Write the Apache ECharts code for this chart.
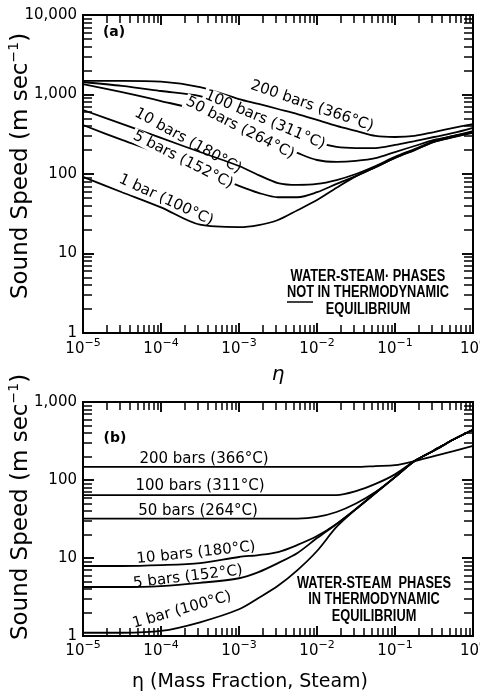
<!DOCTYPE html>
<html><head><meta charset="utf-8">
<script src="https://cdn.jsdelivr.net/npm/echarts@6/dist/echarts.min.js"></script>
<style>html,body{margin:0;padding:0;background:#fff}#c{width:480px;height:698px}</style>
</head><body><div id="c"></div>
<script>
// ---- data ----
const eta = [1e-5, 3.16e-5, 1e-4, 3.16e-4, 1e-3, 1.78e-3, 3.16e-3, 5.62e-3, 1e-2, 1.78e-2, 3.16e-2, 5.62e-2, 0.1, 0.178, 0.316, 0.562, 1];
const curveNames = ['200 bars (366°C)', '100 bars (311°C)', '50 bars (264°C)', '10 bars (180°C)', '5 bars (152°C)', '1 bar (100°C)'];
// panel (a): not in thermodynamic equilibrium
const a200 = [1480, 1480, 1450, 1240, 877, 760, 657, 568, 478, 402, 348, 301, 292, 301, 337, 380, 425];
const a100 = [1436, 1280, 1107, 955, 657, 521, 413, 328, 253, 219, 212, 212, 232, 260, 292, 328, 380];
const a50  = [1350, 1070, 828, 620, 368, 292, 232, 184, 150, 142, 146, 158, 189, 225, 268, 301, 337];
const a10  = [638, 426, 284, 189, 126, 97, 77, 73, 75, 84, 100, 126, 164, 206, 260, 301, 347];
const a5   = [413, 268, 178, 112, 71, 58, 51, 51, 59, 75, 94, 122, 159, 200, 253, 292, 337];
const a1   = [92, 59, 38, 23, 21.5, 22.8, 26.4, 35, 47, 67, 94, 122, 159, 200, 253, 290, 328];
// panel (b): in thermodynamic equilibrium
const b200 = [147, 147, 147, 147, 147, 147, 147, 147, 147, 147, 147, 151, 155, 175, 203, 235, 273];
const b100 = [64, 64, 64, 64, 64, 64, 64, 64, 64, 64, 72, 89, 118, 175, 239, 330, 440];
const b50  = [32, 32, 32, 32, 32, 32, 32, 32, 33.6, 38.9, 50, 70, 109, 175, 239, 330, 440];
const b10  = [7.9, 7.9, 8.1, 8.6, 10.3, 10.9, 11.9, 14.7, 19.1, 27.3, 42.4, 68, 109, 175, 239, 330, 440];
const b5   = [4.25, 4.25, 4.37, 4.8, 5.5, 6.6, 8.6, 11.6, 18.0, 27.3, 42.4, 68, 109, 175, 239, 330, 440];
const b1   = [1.1, 1.1, 1.16, 1.5, 2.2, 3.07, 4.4, 7.0, 12.3, 25, 42.4, 68, 109, 175, 239, 330, 440];
const xTickExponents = ['\u22125', '\u22124', '\u22123', '\u22122', '\u22121', '0'];
const yTickLabelsA = ['1', '10', '100', '1,000', '10,000'];
const yTickLabelsB = ['1', '10', '100', '1,000'];
// tick positions (log axes: 1..9 per decade)
const xTickVals = [1e-5, 2e-5, 3e-5, 4e-5, 5e-5, 6e-5, 7e-5, 8e-5, 9e-5,
  1e-4, 2e-4, 3e-4, 4e-4, 5e-4, 6e-4, 7e-4, 8e-4, 9e-4,
  1e-3, 2e-3, 3e-3, 4e-3, 5e-3, 6e-3, 7e-3, 8e-3, 9e-3,
  0.01, 0.02, 0.03, 0.04, 0.05, 0.06, 0.07, 0.08, 0.09,
  0.1, 0.2, 0.3, 0.4, 0.5, 0.6, 0.7, 0.8, 0.9, 1];
const yTickValsA = [1, 2, 3, 4, 5, 6, 7, 8, 9, 10, 20, 30, 40, 50, 60, 70, 80, 90,
  100, 200, 300, 400, 500, 600, 700, 800, 900, 1000, 2000, 3000, 4000, 5000, 6000, 7000, 8000, 9000, 10000];
const yTickValsB = [1, 2, 3, 4, 5, 6, 7, 8, 9, 10, 20, 30, 40, 50, 60, 70, 80, 90,
  100, 200, 300, 400, 500, 600, 700, 800, 900, 1000];

// ---- chart ----
const FONT = '"DejaVu Sans", "Liberation Sans", sans-serif';
const chart = echarts.init(document.getElementById('c'), null, { renderer: 'canvas' });

const GRID_A = { left: 83, top: 15, width: 390, height: 318, decY: 4 };
const GRID_B = { left: 83, top: 402, width: 390, height: 234, decY: 3 };

function isDecade(v) { const l = Math.log10(v); return Math.abs(l - Math.round(l)) < 1e-9; }
// minor + major tick marks drawn inside on all four sides, in data space
function tickMarkLine(g, yHi, yVals) {
  const pxPerDecX = g.width / 5, pxPerDecY = g.height / g.decY;
  const data = [];
  for (let i = 0; i < xTickVals.length; i++) {
    const v = xTickVals[i];
    const k = Math.pow(10, (isDecade(v) ? 10 : 8) / pxPerDecY);
    data.push([{ coord: [v, 1] }, { coord: [v, k] }]);
    data.push([{ coord: [v, yHi] }, { coord: [v, yHi / k] }]);
  }
  for (let i = 0; i < yVals.length; i++) {
    const v = yVals[i];
    const k = Math.pow(10, (isDecade(v) ? 11 : 9) / pxPerDecX);
    data.push([{ coord: [1e-5, v] }, { coord: [1e-5 * k, v] }]);
    data.push([{ coord: [1, v] }, { coord: [1 / k, v] }]);
  }
  return {
    silent: true, symbol: ['none', 'none'], label: { show: false },
    lineStyle: { color: '#000', width: 1.5, type: 'solid' },
    data: data
  };
}
function curve(idx, values, mark) {
  const s = {
    type: 'line', xAxisIndex: idx, yAxisIndex: idx,
    data: eta.map((x, i) => [x, values[i]]),
    showSymbol: false, smooth: 0.3,
    lineStyle: { color: '#000', width: 1.8 }, z: 3
  };
  if (mark) s.markLine = mark;
  return s;
}
const xRich = {
  b: { fontSize: 15, fontFamily: FONT, color: '#000', lineHeight: 22 },
  s: { fontSize: 11, fontFamily: FONT, color: '#000', lineHeight: 13, verticalAlign: 'top' }
};
const nativeTick = len => ({ show: true, inside: true, length: len, lineStyle: { color: '#000', width: 1.5 } });
function xAxisCfg(gi, margin, pos) {
  const labels = pos === 'bottom';
  return {
    gridIndex: gi, type: 'log', logBase: 10, min: 1e-5, max: 1, splitNumber: 5, position: pos,
    axisLine: { show: false }, axisTick: nativeTick(10), splitLine: { show: false },
    axisLabel: {
      show: labels, margin: margin, showMinLabel: true, showMaxLabel: true, hideOverlap: false,
      formatter: function (v) { const e = Math.round(Math.log10(v)); return '{b|10}{s|' + xTickExponents[e + 5] + '}'; },
      rich: xRich
    }
  };
}
function yAxisCfg(gi, max, labels, pos) {
  return {
    gridIndex: gi, type: 'log', logBase: 10, min: 1, max: max, splitNumber: labels.length - 1, position: pos,
    axisLine: { show: false }, axisTick: nativeTick(11), splitLine: { show: false },
    axisLabel: {
      show: pos === 'left', margin: 6, showMinLabel: true, showMaxLabel: true,
      formatter: function (v) { return labels[Math.round(Math.log10(v))]; },
      fontSize: 15, fontFamily: FONT, color: '#000'
    }
  };
}
function txt(x, y, text, opts) {
  opts = opts || {};
  const style = {
    text: text, fill: '#000', font: opts.font || ('15px ' + FONT),
    align: 'center', verticalAlign: 'middle'
  };
  if (opts.bg) { style.backgroundColor = opts.bg; style.padding = [0, 2]; }
  if (opts.rich) style.rich = opts.rich;
  return {
    type: 'text', x: x, y: y, rotation: (opts.rot || 0) * Math.PI / 180, z: 10,
    scaleX: opts.sx || 1, style: style
  };
}
const boxFont = 'bold 16px "Liberation Sans", sans-serif';
const titleRich = {
  n: { fontSize: 23, fontFamily: FONT, color: '#000', lineHeight: 28 },
  s: { fontSize: 14, fontFamily: FONT, color: '#000', lineHeight: 16, verticalAlign: 'top' }
};
const titleText = '{n|Sound Speed (m sec}{s|\u22121}{n|)}';

const graphics = [
  txt(21, 166, titleText, { rot: 90, rich: titleRich }),
  txt(21, 507, titleText, { rot: 90, rich: titleRich }),
  txt(278, 375, '\u03B7', { font: 'italic 20px ' + FONT }),
  txt(250, 682, '\u03B7 (Mass Fraction, Steam)', { font: '19px ' + FONT }),
  txt(114, 32, '(a)', { font: 'bold 14px ' + FONT }),
  txt(115, 438, '(b)', { font: 'bold 14px ' + FONT }),
  txt(312, 106, curveNames[0], { rot: -19 }),
  txt(265, 120, curveNames[1], { rot: -23, bg: '#fff' }),
  txt(240, 128, curveNames[2], { rot: -27, bg: '#fff' }),
  txt(188, 141, curveNames[3], { rot: -29 }),
  txt(183, 160, curveNames[4], { rot: -27, bg: '#fff' }),
  txt(166, 200, curveNames[5], { rot: -25 }),
  txt(204, 459, curveNames[0]),
  txt(200, 486, curveNames[1]),
  txt(198, 511, curveNames[2]),
  txt(196, 553, curveNames[3], { rot: 6 }),
  txt(188, 577, curveNames[4], { rot: 7 }),
  txt(182, 610, curveNames[5], { rot: 16 }),
  txt(368, 277, 'WATER-STEAM\u00B7 PHASES', { font: boxFont, sx: 0.8 }),
  txt(368, 293, 'NOT IN THERMODYNAMIC', { font: boxFont, sx: 0.8 }),
  txt(368, 310, 'EQUILIBRIUM', { font: boxFont, sx: 0.8 }),
  { type: 'line', z: 10, shape: { x1: 287, y1: 302, x2: 313, y2: 302 }, style: { stroke: '#000', lineWidth: 1.5 } },
  txt(374, 584, 'WATER-STEAM  PHASES', { font: boxFont, sx: 0.8 }),
  txt(374, 600, 'IN THERMODYNAMIC', { font: boxFont, sx: 0.8 }),
  txt(374, 617, 'EQUILIBRIUM', { font: boxFont, sx: 0.8 })
];

function gridCfg(g) {
  return { left: g.left, top: g.top, width: g.width, height: g.height, show: true, borderColor: '#000', borderWidth: 2, backgroundColor: 'transparent', containLabel: false, outerBoundsMode: 'none' };
}

const option = {
  animation: false,
  backgroundColor: '#fff',
  grid: [gridCfg(GRID_A), gridCfg(GRID_B)],
  xAxis: [xAxisCfg(0, 5, 'bottom'), xAxisCfg(1, 4, 'bottom'), xAxisCfg(0, 5, 'top'), xAxisCfg(1, 4, 'top')],
  yAxis: [yAxisCfg(0, 10000, yTickLabelsA, 'left'), yAxisCfg(1, 1000, yTickLabelsB, 'left'),
          yAxisCfg(0, 10000, yTickLabelsA, 'right'), yAxisCfg(1, 1000, yTickLabelsB, 'right')],
  series: [
    curve(0, a200, tickMarkLine(GRID_A, 10000, yTickValsA)), curve(0, a100), curve(0, a50), curve(0, a10), curve(0, a5), curve(0, a1),
    curve(1, b200, tickMarkLine(GRID_B, 1000, yTickValsB)), curve(1, b100), curve(1, b50), curve(1, b10), curve(1, b5), curve(1, b1)
  ],
  graphic: { elements: graphics }
};
chart.setOption(option);
</script>
</body></html>
